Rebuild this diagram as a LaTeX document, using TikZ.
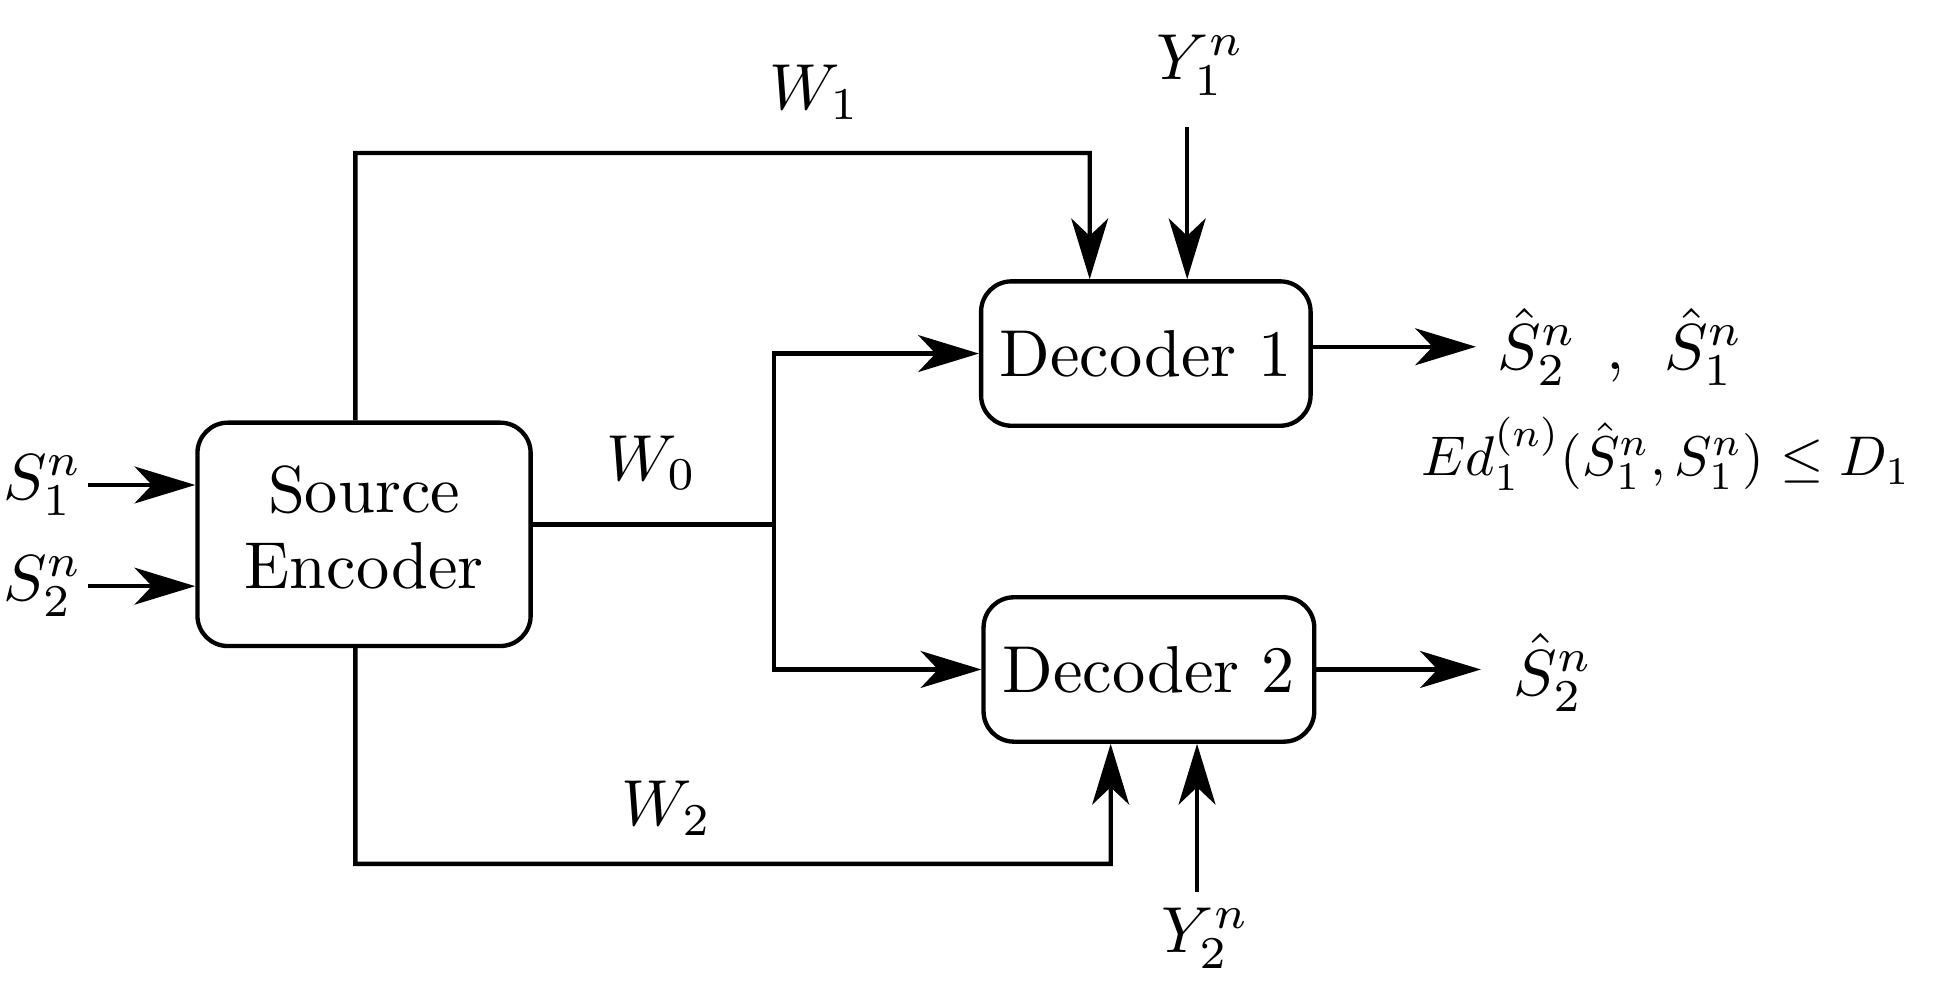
\documentclass[tikz,border=0pt]{standalone}
\usepackage{amsmath}
\usepackage{graphicx}
\usetikzlibrary{arrows.meta}

\newcommand{\bigtxt}[1]{\scalebox{1.53}{#1}}
\newcommand{\labtxt}[1]{\scalebox{1.5}{#1}}

\tikzset{
  block/.style={draw, rounded corners=7pt, line width=1pt, align=center},
  link/.style={line width=1pt},
  arr/.style={line width=1pt, -{Stealth[length=14pt,width=8.5pt,inset=4pt]}}
}

\begin{document}
\begin{tikzpicture}
            \useasboundingbox (0,0) rectangle (15.68,8.11);
            % Nodes
            \node[block, minimum width=2.70cm, minimum height=1.81cm] (enc) at (2.95, 3.78)
                {\bigtxt{\begin{tabular}{@{}c@{}}Source\\[-0.5pt]Encoder\end{tabular}}};
            \node[block, minimum width=2.67cm, minimum height=1.17cm] (dec1) at (9.285, 5.245) {\bigtxt{Decoder 1}};
            \node[block, minimum width=2.68cm, minimum height=1.17cm] (dec2) at (9.31, 2.685) {\bigtxt{Decoder 2}};

            \node[anchor=east, inner sep=1pt] (s1) at (0.71, 4.18) {\labtxt{$S_1^n$}};
            \node[anchor=east, inner sep=1pt] (s2) at (0.71, 3.36) {\labtxt{$S_2^n$}};
            \node (w1) at (6.60, 7.36) {\labtxt{$W_1$}};
            \node (w0) at (5.28, 4.36) {\labtxt{$W_0$}};
            \node (w2) at (5.40, 1.56) {\labtxt{$W_2$}};
            \node (y1) at (9.73, 7.58) {\labtxt{$Y_1^n$}};
            \node (y2) at (9.77, 0.51) {\labtxt{$Y_2^n$}};
            \node[anchor=west, inner sep=0.17cm] (out1) at (11.96, 5.30) {\labtxt{$\hat{S}_2^n\hspace{4.5pt},\hspace{4.5pt}\hat{S}_1^n$}};
            \node (dist) at (13.50, 4.43) {\scalebox{1.29}{$Ed_1^{(n)}(\hat{S}_1^n,S_1^n)\le D_1$}};
            \node[anchor=west, inner sep=0.26cm] (out2) at (12.00, 2.66) {\labtxt{$\hat{S}_2^n$}};

            \coordinate (br) at (6.27, 3.86);
            \coordinate (y1in) at (9.62, 7.08);
            \coordinate (y2in) at (9.70, 0.88);

            % Edges
            \draw[arr] (s1.east) -- (enc.west |- s1.east);
            \draw[arr] (s2.east) -- (enc.west |- s2.east);
            \draw[link] (enc.east |- br) -- (br);
            \draw[arr] (br) |- (dec1.west);
            \draw[arr] (br) |- (dec2.west);
            \draw[arr] ([xshift=-0.07cm]enc.north) |- (8.83, 6.87) -- ([xshift=-0.455cm]dec1.north);
            \draw[arr] ([xshift=-0.07cm]enc.south) |- (9.00, 1.11) -- ([xshift=-0.31cm]dec2.south);
            \draw[arr] (y1in) -- (y1in |- dec1.north);
            \draw[arr] (y2in) -- (y2in |- dec2.south);
            \draw[arr] (dec1.east |- out1.west) -- (out1.west);
            \draw[arr] (dec2.east) -- (dec2.east -| out2.west);
\end{tikzpicture}
\end{document}
